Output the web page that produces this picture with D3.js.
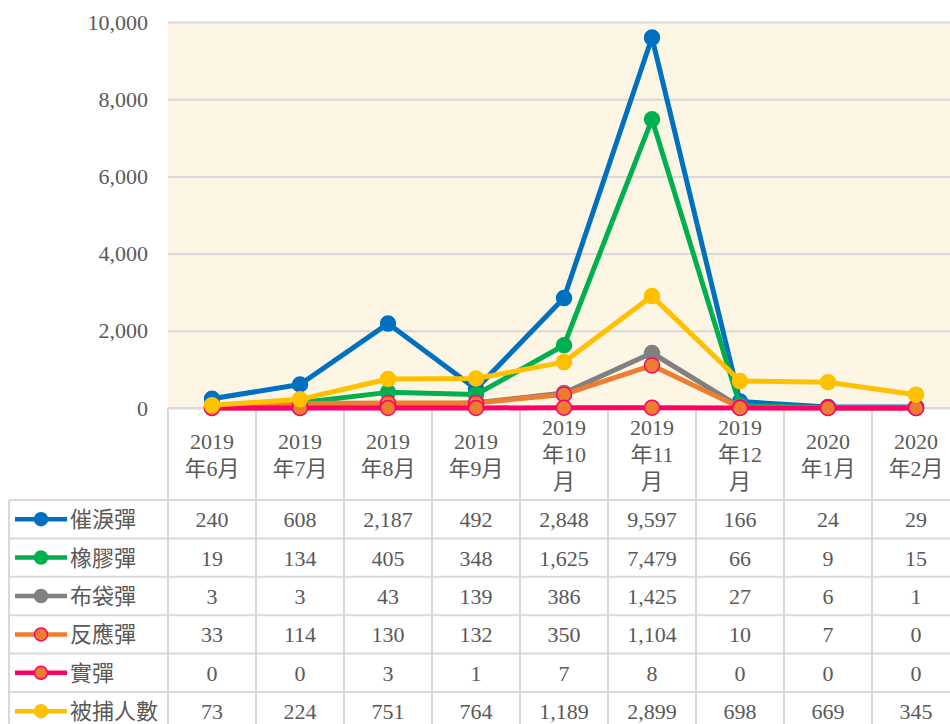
<!DOCTYPE html>
<html>
<head>
<meta charset="utf-8">
<script src="https://cdn.jsdelivr.net/npm/d3@7"></script>
<style>
  body { margin: 0; background: #fff; }
  svg text { font-family: "Liberation Serif", "Noto Sans CJK TC", serif; fill: #595959; }
</style>
</head>
<body>
<div id="chart"></div>
<script>
// months as shown in the header row of the data table
const months = ['2019-06', '2019-07', '2019-08', '2019-09', '2019-10', '2019-11', '2019-12', '2020-01', '2020-02'];
const monthLabels = [
  ['2019', '年6月'], ['2019', '年7月'], ['2019', '年8月'], ['2019', '年9月'],
  ['2019', '年10', '月'], ['2019', '年11', '月'], ['2019', '年12', '月'],
  ['2020', '年1月'], ['2020', '年2月']
];
const seriesNames = ['催淚彈', '橡膠彈', '布袋彈', '反應彈', '實彈', '被捕人數'];

const tearGas = [240, 608, 2187, 492, 2848, 9597, 166, 24, 29];
const rubber = [19, 134, 405, 348, 1625, 7479, 66, 9, 15];
const beanBag = [3, 3, 43, 139, 386, 1425, 27, 6, 1];
const sponge = [33, 114, 130, 132, 350, 1104, 10, 7, 0];
const liveRounds = [0, 0, 3, 1, 7, 8, 0, 0, 0];
const arrests = [73, 224, 751, 764, 1189, 2899, 698, 669, 345];

const yTicks = [0, 2000, 4000, 6000, 8000, 10000];

const seriesValues = [tearGas, rubber, beanBag, sponge, liveRounds, arrests];
const lineColors = ['#0070c0', '#00b050', '#808080', '#ed7d31', '#ff0066', '#ffc000'];
const markerFill = ['#0070c0', '#00b050', '#808080', '#ed7d31', '#ed7d31', '#ffc000'];
const markerStroke = ['#0070c0', '#00b050', '#808080', '#ff0066', '#ff0066', '#ffc000'];

const W = 950, H = 724;
const plot = { left: 168, right: 960, top: 22, bottom: 408 };
const headerBottom = 500;
const rowH = 38.4;
const tableLeft = 9;
const gridColor = '#d9d9d9';

const svg = d3.select('#chart').append('svg')
  .attr('width', W)
  .attr('height', H);

const x = d3.scaleBand().domain(months).range([plot.left, plot.right]).padding(0);
const y = d3.scaleLinear().domain([0, 10000]).range([plot.bottom, plot.top]);

// plot background
svg.append('rect')
  .attr('x', plot.left).attr('y', plot.top)
  .attr('width', plot.right - plot.left).attr('height', plot.bottom - plot.top)
  .attr('fill', '#fdf6e4');

// gridlines + y labels
const yAxis = svg.append('g')
  .attr('transform', `translate(${plot.left},0)`)
  .call(d3.axisLeft(y).tickValues(yTicks).tickSize(-(plot.right - plot.left)).tickPadding(20).tickFormat(d3.format(',')));
yAxis.select('.domain').remove();
yAxis.selectAll('.tick line').attr('stroke', gridColor).attr('stroke-width', 2);
yAxis.selectAll('.tick text').style('font-size', '22px').attr('fill', '#595959');

// table grid
const rowsBottom = headerBottom + rowH * seriesNames.length;
const grid = svg.append('g');
const bounds = months.map(m => x(m)).concat([plot.right]);
bounds.forEach(bx => {
  grid.append('line')
    .attr('x1', bx).attr('x2', bx)
    .attr('y1', plot.bottom).attr('y2', rowsBottom)
    .attr('stroke', gridColor).attr('stroke-width', 2);
});
grid.append('line')
  .attr('x1', tableLeft).attr('x2', tableLeft)
  .attr('y1', headerBottom).attr('y2', rowsBottom)
  .attr('stroke', gridColor).attr('stroke-width', 2);
grid.append('line')
  .attr('x1', plot.left).attr('x2', plot.right)
  .attr('y1', plot.bottom).attr('y2', plot.bottom)
  .attr('stroke', gridColor).attr('stroke-width', 2);
d3.range(seriesNames.length + 1).forEach(i => {
  const ry = headerBottom + i * rowH;
  grid.append('line')
    .attr('x1', tableLeft).attr('x2', plot.right)
    .attr('y1', ry).attr('y2', ry)
    .attr('stroke', gridColor).attr('stroke-width', 2);
});

// header labels
const header = svg.append('g');
months.forEach((m, i) => {
  const lines = monthLabels[i];
  const lh = 27;
  const cy = (plot.bottom + headerBottom) / 2;
  const startY = cy - (lines.length - 1) * lh / 2 + 8;
  const t = header.append('text')
    .attr('text-anchor', 'middle')
    .style('font-size', '22px');
  lines.forEach((s, j) => {
    t.append('tspan')
      .attr('x', x(m) + x.bandwidth() / 2)
      .attr('y', startY + j * lh)
      .text(s);
  });
});

// table rows
const fmt = d3.format(',');
seriesNames.forEach((name, si) => {
  const cy = headerBottom + si * rowH + rowH / 2;
  const leg = svg.append('g');
  leg.append('line')
    .attr('x1', 15).attr('x2', 67)
    .attr('y1', cy).attr('y2', cy)
    .attr('stroke', lineColors[si]).attr('stroke-width', 4.5);
  leg.append('circle')
    .attr('cx', 41).attr('cy', cy).attr('r', 6.5)
    .attr('fill', markerFill[si])
    .attr('stroke', markerStroke[si]).attr('stroke-width', 1.5);
  leg.append('text')
    .attr('x', 70).attr('y', cy + 8)
    .style('font-size', '22px')
    .text(name);

  seriesValues[si].forEach((v, i) => {
    svg.append('text')
      .attr('x', x(months[i]) + x.bandwidth() / 2)
      .attr('y', cy + 8)
      .attr('text-anchor', 'middle')
      .style('font-size', '22px')
      .text(fmt(v));
  });
});

// lines and markers
const line = d3.line()
  .x((d, i) => x(months[i]) + x.bandwidth() / 2)
  .y(d => y(d));

seriesValues.forEach((vals, si) => {
  const g = svg.append('g');
  g.append('path')
    .datum(vals)
    .attr('d', line)
    .attr('fill', 'none')
    .attr('stroke', lineColors[si])
    .attr('stroke-width', 5)
    .attr('stroke-linejoin', 'round');
  g.selectAll('circle')
    .data(vals)
    .enter().append('circle')
    .attr('cx', (d, i) => x(months[i]) + x.bandwidth() / 2)
    .attr('cy', d => y(d))
    .attr('r', 7.5)
    .attr('fill', markerFill[si])
    .attr('stroke', markerStroke[si])
    .attr('stroke-width', 1.5);
});
</script>
</body>
</html>
